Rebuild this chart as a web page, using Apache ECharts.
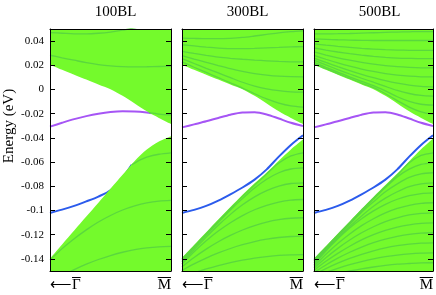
<!DOCTYPE html>
<html>
<head>
<meta charset="utf-8">
<script src="https://cdn.jsdelivr.net/npm/echarts@6/dist/echarts.min.js"></script>
<style>
html,body{margin:0;padding:0;background:#fff;}
#chart{width:436px;height:295px;}
</style>
</head>
<body>
<div id="chart"></div>
<script>
// ---------- data ----------
const panelTitles = ['100BL', '300BL', '500BL'];
const yTickValues = [-0.14, -0.12, -0.1, -0.08, -0.06, -0.04, -0.02, 0, 0.02, 0.04];
const xTickArrow = '\u27F5';
const xTickLabels = ['\u0393', 'M'];   // both drawn with an over-bar
const K = [0, 0.1, 0.2, 0.3, 0.4, 0.5, 0.6, 0.7, 0.8, 0.9, 1];

// bulk continuum edges
const upperEdge = [0.0205, 0.0163, 0.0122, 0.0082, 0.0042, 0.0002, -0.0052, -0.0115, -0.018, -0.0235, -0.0285];
const lowerEdge100 = [-0.1397, -0.128, -0.1165, -0.105, -0.0935, -0.082, -0.0705, -0.059, -0.0496, -0.043, -0.0386];
const lowerEdge300 = [-0.139, -0.1285, -0.118, -0.1075, -0.0972, -0.087, -0.0775, -0.0685, -0.0588, -0.0495, -0.0413];
const lowerEdge500 = [-0.1397, -0.1295, -0.1192, -0.109, -0.0988, -0.0888, -0.079, -0.0695, -0.0592, -0.0494, -0.0405];

// surface states
const purpleSS = [-0.0313, -0.0288, -0.0263, -0.0235, -0.0208, -0.019, -0.0188, -0.0206, -0.024, -0.0275, -0.0302];
const blueSS = [-0.102, -0.0995, -0.0962, -0.0918, -0.0866, -0.081, -0.0745, -0.066, -0.0555, -0.0458, -0.0378];
const kPurple100 = [0, 0.1, 0.2, 0.3, 0.4, 0.5, 0.6, 0.7, 0.8, 0.84];
const purple100 = [-0.0307, -0.0275, -0.0245, -0.022, -0.02, -0.0186, -0.018, -0.0182, -0.019, -0.0196];
const kBlue100 = [0, 0.1, 0.2, 0.3, 0.4, 0.5, 0.6, 0.675];
const blue100 = [-0.102, -0.0993, -0.0962, -0.0925, -0.0885, -0.0832, -0.0728, -0.0622];

// 100BL sub-bands
const p1u1 = [0.047, 0.0465, 0.046, 0.046, 0.0465, 0.0475, 0.049, 0.051, 0.053, 0.055, 0.056];
const p1u2 = [0.0283, 0.0262, 0.0242, 0.0222, 0.0206, 0.0195, 0.0189, 0.0187, 0.0188, 0.019, 0.0191];
const kP1u3 = [0.82, 0.9, 1.0];
const p1u3 = [-0.0192, -0.0203, -0.021];
const kP1l1 = [0.675, 0.75, 0.8, 0.9, 1.0];
const p1l1 = [-0.0622, -0.058, -0.0558, -0.0535, -0.0523];
const p1l2 = [-0.141, -0.1315, -0.1233, -0.116, -0.1095, -0.1041, -0.0996, -0.0962, -0.0937, -0.0922, -0.0917];
const p1l3 = [-0.16, -0.154, -0.1489, -0.1444, -0.1405, -0.1372, -0.1345, -0.1324, -0.1309, -0.13, -0.1297];

// 300BL sub-bands
const p2u1 = [0.0425, 0.0422, 0.042, 0.042, 0.0423, 0.043, 0.0442, 0.0455, 0.0468, 0.0478, 0.0485];
const p2u2 = [0.037, 0.036, 0.035, 0.0342, 0.0338, 0.0338, 0.034, 0.0344, 0.0348, 0.0352, 0.0355];
const p2u3 = [0.0315, 0.0298, 0.0282, 0.0268, 0.0258, 0.025, 0.0243, 0.0237, 0.0232, 0.0229, 0.0228];
const p2u4 = [0.028, 0.0252, 0.0225, 0.0198, 0.0172, 0.015, 0.0132, 0.0119, 0.011, 0.0106, 0.0105];
const p2u5 = [0.0255, 0.0215, 0.0175, 0.0137, 0.0098, 0.006, 0.0028, 0.0005, -0.001, -0.0019, -0.0022];
const p2u6 = [0.0228, 0.0184, 0.0141, 0.0098, 0.0055, 0.0012, -0.0035, -0.0078, -0.0112, -0.0135, -0.0145];
const p2l1 = [-0.14, -0.1296, -0.1191, -0.1086, -0.0984, -0.0883, -0.0789, -0.0698, -0.0608, -0.0549, -0.0523];
const p2l2 = [-0.1412, -0.1308, -0.1203, -0.1099, -0.0996, -0.0902, -0.0815, -0.0742, -0.0688, -0.0657, -0.0647];
const p2l3 = [-0.1426, -0.1323, -0.122, -0.1122, -0.1032, -0.0953, -0.0887, -0.0836, -0.0799, -0.0777, -0.0771];
const p2l4 = [-0.1442, -0.1341, -0.125, -0.117, -0.1101, -0.1042, -0.0994, -0.0957, -0.093, -0.0914, -0.0909];
const p2l5 = [-0.1465, -0.1388, -0.1319, -0.1258, -0.1206, -0.1161, -0.1125, -0.1096, -0.1076, -0.1064, -0.106];
const p2l6 = [-0.1495, -0.1441, -0.1393, -0.1351, -0.1314, -0.1283, -0.1257, -0.1237, -0.1223, -0.1215, -0.1212];
const p2l7 = [-0.155, -0.1515, -0.1483, -0.1455, -0.1431, -0.1411, -0.1394, -0.1381, -0.1371, -0.1366, -0.1364];

// 500BL sub-bands
const p3u1 = [0.046, 0.046, 0.0461, 0.0463, 0.0466, 0.0469, 0.0472, 0.0475, 0.0477, 0.0479, 0.0479];
const p3u2 = [0.0419, 0.0415, 0.0411, 0.0408, 0.0406, 0.0405, 0.0405, 0.0405, 0.0405, 0.0405, 0.0405];
const p3u3 = [0.0378, 0.0367, 0.0357, 0.0348, 0.034, 0.0334, 0.0329, 0.0326, 0.0324, 0.0323, 0.0323];
const p3u4 = [0.0343, 0.0326, 0.031, 0.0296, 0.0284, 0.0274, 0.0266, 0.026, 0.0257, 0.0255, 0.0255];
const p3u5 = [0.031, 0.0285, 0.0262, 0.0242, 0.0225, 0.021, 0.0198, 0.0189, 0.0183, 0.0179, 0.0178];
const p3u6 = [0.0282, 0.025, 0.022, 0.0193, 0.0169, 0.0149, 0.0132, 0.0119, 0.011, 0.0105, 0.0104];
const p3u7 = [0.026, 0.0224, 0.0189, 0.0156, 0.0126, 0.0098, 0.0073, 0.0052, 0.0036, 0.0026, 0.0022];
const p3u8 = [0.0243, 0.0203, 0.0165, 0.0128, 0.0093, 0.006, 0.0025, -0.0008, -0.0033, -0.0049, -0.0055];
const p3u9 = [0.0225, 0.0184, 0.0144, 0.0105, 0.0068, 0.0032, -0.0012, -0.006, -0.0098, -0.0122, -0.0129];
const p3u10 = [0.0212, 0.0172, 0.0131, 0.0092, 0.0053, 0.0015, -0.0035, -0.0092, -0.0145, -0.0185, -0.0206];
const p3l1 = [-0.1405, -0.1303, -0.12, -0.1098, -0.0996, -0.0896, -0.0802, -0.0707, -0.0605, -0.0545, -0.0523];
const p3l2 = [-0.1413, -0.1311, -0.1208, -0.1106, -0.1005, -0.0906, -0.081, -0.0722, -0.0658, -0.0619, -0.0606];
const p3l3 = [-0.1421, -0.1319, -0.1216, -0.1114, -0.1015, -0.0928, -0.0845, -0.078, -0.0727, -0.0697, -0.0688];
const p3l4 = [-0.1435, -0.1329, -0.1228, -0.1132, -0.1045, -0.0965, -0.0898, -0.0845, -0.0803, -0.078, -0.0771];
const p3l5 = [-0.1448, -0.1335, -0.1234, -0.1145, -0.1068, -0.1003, -0.0949, -0.0907, -0.0878, -0.086, -0.0854];
const p3l6 = [-0.1462, -0.1362, -0.1273, -0.1194, -0.1125, -0.1068, -0.102, -0.0983, -0.0957, -0.0941, -0.0936];
const p3l7 = [-0.1478, -0.1391, -0.1313, -0.1244, -0.1184, -0.1134, -0.1092, -0.106, -0.1037, -0.1024, -0.1019];
const p3l8 = [-0.1495, -0.142, -0.1354, -0.1295, -0.1243, -0.12, -0.1165, -0.1137, -0.1118, -0.1106, -0.1102];
const p3l9 = [-0.1512, -0.145, -0.1394, -0.1345, -0.1302, -0.1266, -0.1236, -0.1214, -0.1197, -0.1187, -0.1184];
const p3l10 = [-0.153, -0.148, -0.1435, -0.1396, -0.1362, -0.1333, -0.1309, -0.1291, -0.1278, -0.127, -0.1267];
const p3l11 = [-0.155, -0.1512, -0.1478, -0.1448, -0.1422, -0.14, -0.1382, -0.1368, -0.1358, -0.1352, -0.135];
const p3l12 = [-0.157, -0.1544, -0.152, -0.15, -0.1482, -0.1467, -0.1454, -0.1444, -0.1438, -0.1433, -0.1432];

// ---------- styling ----------
const FONT = 'Liberation Serif';
const GREEN = '#74fa2c';
const BAND = '#58d440';
const PURPLE = '#a655f5';
const BLUE = '#2b5bec';
const LEFTS = [50, 182, 314];
const PW = 121;

const mctx = document.createElement('canvas').getContext('2d');
function textW(s) { mctx.font = '15px "' + FONT + '"'; return mctx.measureText(s).width; }
const wArrow = textW(xTickArrow);
const wGamma = textW(xTickLabels[0]);
const wM = textW(xTickLabels[1]);

function pts(ks, vs) { return ks.map((k, i) => [k, vs[i]]); }

function base(p, ks, vals) {
  return { type: 'line', xAxisIndex: p * 2, yAxisIndex: p * 2, data: pts(ks, vals),
    smooth: 0.3, symbol: 'none', silent: true, clip: true };
}
function fill(p, vals, origin) {
  return Object.assign(base(p, K, vals), {
    lineStyle: { width: 0 }, areaStyle: { color: GREEN, opacity: 1, origin: origin }, z: 2 });
}
function band(p, ks, vals) {
  return Object.assign(base(p, ks, vals), { lineStyle: { color: BAND, width: 1.3, opacity: 0.9 }, z: 3 });
}
function surf(p, ks, vals, color, z) {
  return Object.assign(base(p, ks, vals), { lineStyle: { color: color, width: 2 }, z: z });
}

const series = [];
// panel 1 (100BL)
series.push(surf(0, kPurple100, purple100, PURPLE, 1));
series.push(surf(0, kBlue100, blue100, BLUE, 1));
series.push(fill(0, upperEdge, 'end'));
series.push(fill(0, lowerEdge100, 'start'));
[p1u1, p1u2, p1l2, p1l3].forEach(v => series.push(band(0, K, v)));
series.push(band(0, kP1u3, p1u3));
series.push(band(0, kP1l1, p1l1));
// panel 2 (300BL)
series.push(fill(1, upperEdge, 'end'));
series.push(fill(1, lowerEdge300, 'start'));
[p2u1, p2u2, p2u3, p2u4, p2u5, p2u6, p2l1, p2l2, p2l3, p2l4, p2l5, p2l6, p2l7].forEach(v => series.push(band(1, K, v)));
series.push(surf(1, K, purpleSS, PURPLE, 4));
series.push(surf(1, K, blueSS, BLUE, 4));
// panel 3 (500BL)
series.push(fill(2, upperEdge, 'end'));
series.push(fill(2, lowerEdge500, 'start'));
[p3u1, p3u2, p3u3, p3u4, p3u5, p3u6, p3u7, p3u8, p3u9, p3u10,
 p3l1, p3l2, p3l3, p3l4, p3l5, p3l6, p3l7, p3l8, p3l9, p3l10, p3l11, p3l12].forEach(v => series.push(band(2, K, v)));
series.push(surf(2, K, purpleSS, PURPLE, 4));
series.push(surf(2, K, blueSS, BLUE, 4));

const barStyle = { height: 1, lineHeight: 3, fontSize: 1, backgroundColor: '#000' };
const xRich = {
  t: { fontFamily: FONT, fontSize: 15, lineHeight: 12, color: '#000' },
  g: { width: wArrow, height: 1, lineHeight: 3, fontSize: 1 },
  b: Object.assign({ width: wGamma }, barStyle),
  b2: Object.assign({ width: wM }, barStyle)
};

const grids = [], xAxes = [], yAxes = [], titles = [];
const axisLine = { show: true, onZero: false, lineStyle: { color: '#000', width: 1 } };
for (let p = 0; p < 3; p++) {
  grids.push({ left: LEFTS[p], width: PW, top: 29, height: 242, containLabel: false });
  titles.push({ text: panelTitles[p], left: LEFTS[p] + PW / 2, top: 0, textAlign: 'center',
    textStyle: { fontFamily: FONT, fontSize: 15, fontWeight: 'normal', color: '#000' } });
  xAxes.push({ type: 'value', gridIndex: p, min: 0, max: 1, position: 'bottom', z: 5,
    axisLine: axisLine, axisTick: { show: false }, splitLine: { show: false },
    axisLabel: { customValues: [0, 1],
      formatter: v => (v === 0 ? '{g| }{b| }\n{t|' + xTickArrow + xTickLabels[0] + '}'
                               : '{b2| }\n{t|' + xTickLabels[1] + '}'),
      rich: xRich, alignMinLabel: 'left', alignMaxLabel: 'right',
      fontFamily: FONT, fontSize: 15, color: '#000', margin: 5 } });
  xAxes.push({ type: 'value', gridIndex: p, min: 0, max: 1, position: 'top', z: 5,
    axisLine: axisLine, axisTick: { show: false }, splitLine: { show: false }, axisLabel: { show: false } });
  yAxes.push({ type: 'value', gridIndex: p, min: -0.15, max: 0.05, position: 'left', z: 5,
    axisLine: axisLine, splitLine: { show: false },
    axisTick: { inside: true, length: 5, customValues: yTickValues, lineStyle: { color: '#000' } },
    axisLabel: { show: p === 0, customValues: yTickValues, formatter: v => String(+(+v).toFixed(2)),
      fontFamily: FONT, fontSize: 11, color: '#000', margin: 6 },
    name: p === 0 ? 'Energy (eV)' : '', nameLocation: 'middle', nameGap: 33,
    nameTextStyle: { fontFamily: FONT, fontSize: 15, color: '#000', padding: [0, 0, 0, 48] } });
  yAxes.push({ type: 'value', gridIndex: p, min: -0.15, max: 0.05, position: 'right', z: 5,
    axisLine: axisLine, splitLine: { show: false },
    axisTick: { inside: true, length: 5, customValues: yTickValues, lineStyle: { color: '#000' } },
    axisLabel: { show: false } });
}

const chart = echarts.init(document.getElementById('chart'), null, { renderer: 'canvas' });
chart.setOption({
  animation: false,
  backgroundColor: '#fff',
  title: titles,
  grid: grids,
  xAxis: xAxes,
  yAxis: yAxes,
  series: series
});
</script>
</body>
</html>
